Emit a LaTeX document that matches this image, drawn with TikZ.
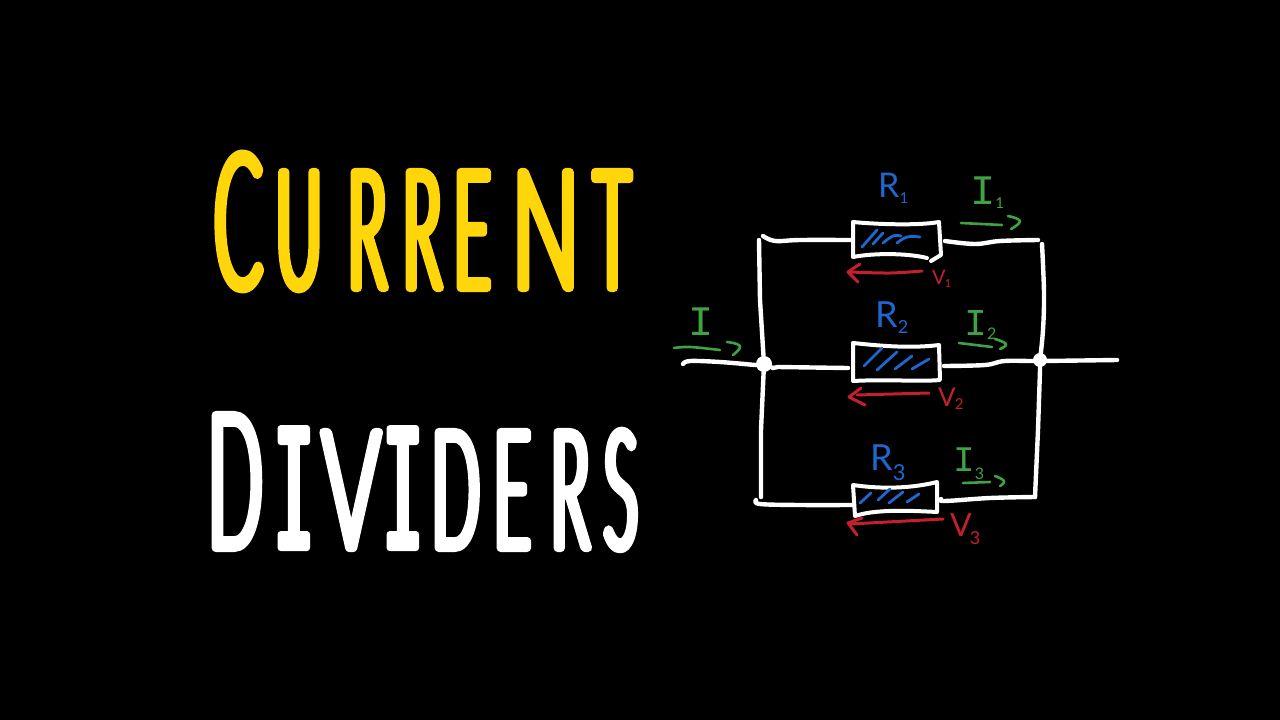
\documentclass[tikz,border=0pt]{standalone}
\usepackage{fontspec}
\setmainfont{Lato}
\newfontfamily\ttlfont[FakeStretch=0.38]{Lato Light}
\newfontfamily\ttlwide[FakeStretch=0.54]{Lato Light}
\newfontfamily\ttlserif[FakeStretch=0.36]{Liberation Mono}
\newfontfamily\lblfont{Lato}
\newfontfamily\ifont{Liberation Mono}
\definecolor{ttlyellow}{HTML}{FFD60A}
\definecolor{wirered}{HTML}{C4202C}
\definecolor{wiregreen}{HTML}{3FA345}
\definecolor{wireblue}{HTML}{1F66CF}
\newcommand{\ltr}[2]{\makebox[#1pt][l]{#2}}
\newcommand{\strokeon}{\special{pdf:code 2 Tr 8 w 1 J 1 j}}
\newcommand{\strokethin}{\special{pdf:code 2 Tr 6 w 1 J 1 j}}
\newcommand{\strokeoff}{\special{pdf:code 0 Tr 1 w}}
\newcommand{\ttlbig}{\fontsize{188}{188}\selectfont}
\newcommand{\ttlsmall}{\fontsize{164}{164}\selectfont}
\newcommand{\wideltr}[2]{\makebox[#1pt][l]{\ttlwide\ttlsmall #2}}
\newcommand{\serifI}[1]{\makebox[#1pt][l]{\strokethin\ttlserif\fontsize{182}{182}\selectfont I\strokeon}}
\tikzset{
  wire/.style={draw=white,line width=4.4pt,line cap=round,line join=round},
  arr/.style={draw=wirered,line width=3pt,line cap=round,line join=round},
  cur/.style={draw=wiregreen,line width=2.6pt,line cap=round,line join=round},
  hatch/.style={draw=wireblue,line width=2.8pt,line cap=round,line join=round},
  junction/.style={circle,fill=white,inner sep=0pt,minimum size=14pt},
  title/.style={anchor=base west,inner sep=0pt,font=\ttlfont},
  lab/.style={anchor=base west,inner sep=0pt},
}
\begin{document}
\begin{tikzpicture}[x=1pt,y=-1pt]
\useasboundingbox (0,0) rectangle (1280,720);
\fill[black] (0,0) rectangle (1280,720);
% titles
\node[title,text=ttlyellow] (current) at (214,288)
 {\strokeon\ttlbig\ltr{62}{C}\ttlsmall\ltr{72}{U}\ltr{55}{R}\ltr{51}{R}\ltr{58}{E}\wideltr{82}{N}T\strokeoff};
\node[title,text=white] (dividers) at (208,548)
 {\strokeon\ttlbig\ltr{66}{D}\ttlsmall\serifI{48}\wideltr{61}{V}\serifI{49}\ltr{62}{D}\ltr{57}{E}\ltr{53}{R}S\strokeoff};
% junctions
\node[junction,minimum size=16pt] (J1) at (764,364) {};
\node[junction] (J2) at (1040,360) {};
% main wires
\draw[wire] plot[smooth,tension=.6] coordinates {(683,364)(690,361)(720,362)(755,365)} -- (J1);
\draw[wire] (J1) -- (773,368) -- (778,367) -- (848,368);
\draw[wire] plot[smooth,tension=.6] coordinates {(944,366)(985,365)(1005,361)(1040,361)(1117,360)};
% left rail
\draw[wire] (J1) -- (760,300) -- (759,240);
\draw[wire] (J1) -- (761,430) -- (761,497);
% right rail
\draw[wire] plot[smooth,tension=.6] coordinates {(1042,244)(1044,293)(1043,330)(1040,360)};
\draw[wire] (J2) -- (1040,370) -- (1038,430) -- (1035,497);
% branch wires
\draw[wire] plot[smooth,tension=.6] coordinates {(763,236)(775,241)(800,240)(852,240)};
\draw[wire] plot[smooth,tension=.6] coordinates {(945,241)(975,244)(1000,241)(1038,240)};
\draw[wire] plot[smooth,tension=.6] coordinates {(756,500)(760,504)(800,505)(853,505)};
\draw[wire] plot[smooth,tension=.6] coordinates {(941,499)(945,501)(990,498)(1035,497)};
% resistors
\draw[wire,line width=4pt] (927,258) .. controls (907,253) and (873,253) .. (853,257) -- (853,222) .. controls (873,224) and (917,226) .. (939,222) -- (941,255) -- (931,261);
\draw[wire,line width=4pt] (853,343) .. controls (873,345) and (907,349) .. (939,345) -- (940,380) .. controls (917,382) and (890,379) .. (853,381) -- cycle;
\draw[wire,line width=4pt] (853,485) .. controls (873,488) and (905,490) .. (937,482) -- (937,512) .. controls (900,510) and (873,510) .. (855,516) -- cycle;
% hatching
\draw[hatch] (862,247) -- (877,230);
\draw[hatch] (873,244) -- (883,233);
\draw[hatch] plot[smooth,tension=.7] coordinates {(883,243)(893,236)(901,236)};
\draw[hatch] plot[smooth,tension=.7] coordinates {(897,243)(907,237)(920,237)};
\draw[hatch] (864,366) -- (882,348);
\draw[hatch] (877,370) -- (897,352);
\draw[hatch] (895,369) -- (912,356);
\draw[hatch] (912,369) -- (929,359);
\draw[hatch] (860,503) -- (871,493);
\draw[hatch] (878,500) -- (890,489);
\draw[hatch] (889,503) -- (903,492);
\draw[hatch] (907,502) -- (919,494);
% voltage arrows
\draw[arr] plot[smooth,tension=.6] coordinates {(922,271)(890,273)(850,272)};
\draw[arr] (860,264) -- (848,272) -- (858,282);
\draw[arr] (929,393) -- (857,395);
\draw[arr] (861,388) -- (849,397) -- (865,405);
\draw[arr] (943,519) -- (850,524);
\draw[arr] (862,518) -- (848,523) -- (857,535);
% current arrows
\draw[cur] plot[smooth,tension=.6] coordinates {(674,348)(690,347)(720,350)};
\draw[cur] plot[smooth,tension=.8] coordinates {(727,342)(740,346)(733,355)};
\draw[cur] (961,223) -- (1002,225);
\draw[cur] plot[smooth,tension=.8] coordinates {(1008,216)(1020,221)(1011,229)};
\draw[cur] (959,343) -- (992,347);
\draw[cur] plot[smooth,tension=.8] coordinates {(995,339)(1006,344)(1000,349)};
\draw[cur] (963,483) -- (990,482);
\draw[cur] plot[smooth,tension=.8] coordinates {(995,476)(1004,481)(1000,486)};
% labels
\node[lab,text=wireblue,font=\lblfont\fontsize{34}{34}\selectfont] (r1) at (878,197) {R\raisebox{-6pt}{\fontsize{15}{15}\selectfont 1}};
\node[lab,text=wireblue,font=\lblfont\fontsize{36}{36}\selectfont] (r2) at (875,327) {R\raisebox{-6pt}{\fontsize{18}{18}\selectfont 2}};
\node[lab,text=wireblue,font=\lblfont\fontsize{36}{36}\selectfont] (r3) at (870,470) {R\raisebox{-10pt}{\fontsize{22}{22}\selectfont 3}};
\node[lab,text=wiregreen,font=\ifont\fontsize{42}{42}\selectfont] (i0) at (688,335) {I};
\node[lab,text=wiregreen,font=\ifont\fontsize{42}{42}\selectfont] (i1) at (970,204) {I\raisebox{-4pt}{\lblfont\fontsize{15}{15}\selectfont 1}};
\node[lab,text=wiregreen,font=\ifont\fontsize{38}{38}\selectfont] (i2) at (964,335) {I\raisebox{-4pt}{\lblfont\fontsize{16}{16}\selectfont 2}};
\node[lab,text=wiregreen,font=\ifont\fontsize{36}{36}\selectfont] (i3) at (953,471) {I\raisebox{-8pt}{\lblfont\fontsize{16}{16}\selectfont 3}};
\node[lab,text=wirered,font=\lblfont\fontsize{20}{20}\selectfont] (v1) at (932,284) {V\hspace{-1pt}\raisebox{-3pt}{\fontsize{11}{11}\selectfont 1}};
\node[lab,text=wirered,font=\lblfont\fontsize{26}{26}\selectfont] (v2) at (938,406) {V\hspace{-1pt}\raisebox{-3pt}{\fontsize{15}{15}\selectfont 2}};
\node[lab,text=wirered,font=\lblfont\fontsize{32}{32}\selectfont] (v3) at (950,536) {V\hspace{-2pt}\raisebox{-8pt}{\fontsize{18}{18}\selectfont 3}};
\end{tikzpicture}
\end{document}
